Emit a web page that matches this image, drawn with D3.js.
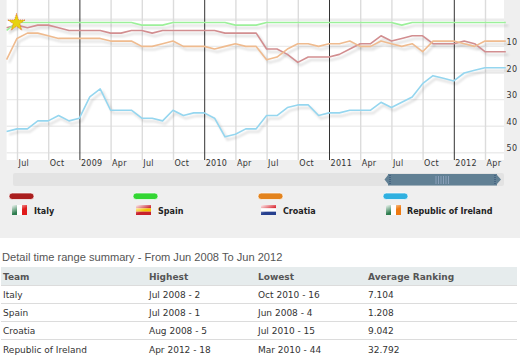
<!DOCTYPE html>
<html>
<head>
<meta charset="utf-8">
<script src="https://cdn.jsdelivr.net/npm/d3@7"></script>
<style>
  html, body { margin: 0; padding: 0; background: #fff; overflow: hidden; }
  svg { display: block; }
  text { font-family: "DejaVu Sans", sans-serif; }
  .axis text { font-size: 8px; fill: #333; letter-spacing: 0.3px; }
  .axis .domain { display: none; }
</style>
</head>
<body>
<svg id="chart" width="520" height="359"></svg>
<script>
// monthly FIFA ranks, Jun 2008 to Jun 2012
const startYear = 2008, startMonth = 5;
const italy = [3,2,3,2,2,3,4,4,4,4,5,5,4,4,5,4,4,4,4,4,4,5,5,5,5,11,11,13,16,14,14,14,13,11,9,9,6,8,7,6,6,9,9,9,8,9,12,12,12];
const spain = [4,1,1,1,1,1,1,1,1,1,1,1,1,2,2,2,1,1,1,1,1,1,2,2,2,1,1,1,1,1,1,1,1,1,1,1,1,1,2,1,1,1,1,1,1,1,1,1,1];
const croatia = [15,7,5,5,6,7,7,7,7,7,8,8,8,10,10,9,8,10,10,10,11,10,9,10,10,15,14,11,9,9,10,9,9,8,10,10,8,9,10,9,12,8,8,8,9,10,8,8,8];
const ireland = [42,41,41,38,38,36,38,37,29,26,34,34,34,37,37,38,34,36,35,35,37,44,43,41,41,36,36,33,32,32,36,35,35,34,34,34,31,33,31,29,24,21,22,23,20,19,18,18,18];

const teams = ["Italy", "Spain", "Croatia", "Republic of Ireland"];
const series = [italy, spain, croatia, ireland];
const lineColors = ["#d28e90", "#9cf09a", "#efbb8f", "#95d6ef"];
const legendColors = ["#aa1e1e", "#33d633", "#e3831d", "#2fb0e0"];
const highest = ["Jul 2008 - 2", "Jul 2008 - 1", "Aug 2008 - 5", "Apr 2012 - 18"];
const lowest = ["Oct 2010 - 16", "Jun 2008 - 4", "Jul 2010 - 15", "Mar 2010 - 44"];
const average = ["7.104", "1.208", "9.042", "32.792"];
const columns = ["Team", "Highest", "Lowest", "Average Ranking"];
const rankTicks = [0, 10, 20, 30, 40, 50];
const monthNames = { 0: null, 3: "Apr", 6: "Jul", 9: "Oct" };
const flags = [
  ["v", "#2e7d4f", "#ffffff", "#e01b1b"],
  ["h", "#c8202c", "#f5c400", "#c8202c"],
  ["h", "#d8222c", "#ffffff", "#27408f"],
  ["v", "#2e7d4f", "#ffffff", "#ee7a11"],
];
const legendX = [9, 133, 258, 383];
const legendText = [34, 158, 283, 407];

const svg = d3.select("#chart");
const defs = svg.append("defs");
defs.append("filter").attr("id", "soft").append("feGaussianBlur").attr("stdDeviation", 1);
const glare = defs.append("linearGradient").attr("id", "glare")
  .attr("x1", 0).attr("y1", 0).attr("x2", 0.7).attr("y2", 1);
glare.append("stop").attr("offset", "0%").attr("stop-color", "#fff").attr("stop-opacity", 0.95);
glare.append("stop").attr("offset", "65%").attr("stop-color", "#fff").attr("stop-opacity", 0);

const x = d3.scaleLinear().domain([0, 48]).range([6.6, 505.8]);
const y = d3.scaleLinear().domain([0, 50]).range([19.8, 152.8]);

// grey page behind the chart, white plot on top
svg.append("rect").attr("width", 520).attr("height", 238).attr("fill", "#efefef");
svg.append("rect").attr("x", 6.6).attr("width", 497.4).attr("height", 160).attr("fill", "#fff");

// month index for each tick, every 3 months from Jul 2008
const monthTicks = d3.range(1, 48, 3);
const monthOf = (i) => (startMonth + i) % 12;
const yearOf = (i) => startYear + Math.floor((startMonth + i) / 12);

svg.append("g").selectAll("line").data(rankTicks).enter().append("line")
  .attr("x1", 6.6).attr("x2", 504)
  .attr("y1", (d) => y(d)).attr("y2", (d) => y(d))
  .attr("stroke", "#ececec").attr("stroke-width", (d) => (d === 0 ? 2.4 : 1.4));

const xAxis = d3.axisBottom(x)
  .tickValues(monthTicks)
  .tickSize(160)
  .tickPadding(0)
  .tickFormat((i) => monthNames[monthOf(i)] || yearOf(i));
const gx = svg.append("g").attr("class", "axis").call(xAxis);
gx.selectAll(".tick line")
  .attr("stroke", (i) => (monthOf(i) === 0 ? "#333" : "#dcdcdc"))
  .attr("stroke-width", (i) => (monthOf(i) === 0 ? 1 : 1.4));
gx.selectAll(".tick text").attr("text-anchor", "start").attr("x", 1);

const yAxis = d3.axisRight(y)
  .tickValues(rankTicks.slice(1))
  .tickSize(0)
  .tickPadding(0);
svg.append("g").attr("class", "axis")
  .attr("transform", "translate(506.5,-4.5)")
  .call(yAxis);

// lines with their drop shadows
const line = d3.line().x((d, i) => x(i)).y((d) => y(d));
svg.append("g").selectAll("path").data(series).enter().append("path")
  .attr("d", line)
  .attr("transform", "translate(2.5,3)")
  .attr("fill", "none").attr("stroke", "#000").attr("stroke-opacity", 0.13)
  .attr("stroke-width", 2).attr("filter", "url(#soft)");
svg.append("g").selectAll("path").data(series).enter().append("path")
  .attr("d", line)
  .attr("fill", "none")
  .attr("stroke", (d, i) => lineColors[i])
  .attr("stroke-width", 1.6)
  .attr("stroke-linejoin", "round");

// star on Spain's first number one
svg.append("path")
  .attr("d", d3.symbol().type(d3.symbolStar).size(95))
  .attr("transform", `translate(${x(1) - 0.5},${y(spain[1]) + 0.3})`)
  .attr("fill", "#e6d30f")
  .attr("stroke", "#e2502a").attr("stroke-width", 0.7).attr("stroke-dasharray", "1 1");

// range scroller
svg.append("rect").attr("x", 13).attr("y", 173).attr("width", 491).attr("height", 13)
  .attr("rx", 2).attr("fill", "#e3e3e3");
svg.append("path").attr("d", "M384.5,179.5L388,175L388,184ZM501,179.5L497,175L497,184Z").attr("fill", "#618094");
svg.append("rect").attr("x", 388).attr("y", 174).attr("width", 109).attr("height", 11.5).attr("fill", "#618094");
svg.append("g").selectAll("line").data(d3.range(436, 449.5, 2.5)).enter().append("line")
  .attr("x1", (d) => d).attr("x2", (d) => d).attr("y1", 176).attr("y2", 184)
  .attr("stroke", "#8fa3bd").attr("stroke-width", 0.9);
svg.append("g").selectAll("line").data([390, 495]).enter().append("line")
  .attr("x1", (d) => d).attr("x2", (d) => d).attr("y1", 175).attr("y2", 185)
  .attr("stroke", "#2f4a70").attr("stroke-dasharray", "1 1");

// legend
const legend = svg.append("g").selectAll("g").data(teams).enter().append("g");
legend.append("rect")
  .attr("x", (d, i) => legendX[i]).attr("y", 193)
  .attr("width", 25).attr("height", 6.5).attr("rx", 3.2)
  .attr("fill", (d, i) => legendColors[i])
  .attr("stroke", "#fff").attr("stroke-width", 0.7);
legend.each(function (d, i) {
  const g = d3.select(this), f = flags[i], fx = legendX[i] + 3, fy = 205;
  f.slice(1).forEach((c, k) => {
    if (f[0] === "v") {
      g.append("rect").attr("x", fx + k * 5).attr("y", fy).attr("width", 5).attr("height", 10).attr("fill", c);
    } else {
      g.append("rect").attr("x", fx).attr("y", fy + (k * 10) / 3).attr("width", 15).attr("height", 10 / 3).attr("fill", c);
    }
  });
  g.append("rect").attr("x", fx).attr("y", fy).attr("width", 15).attr("height", 10).attr("fill", "url(#glare)");
});
legend.append("text")
  .attr("x", (d, i) => legendText[i]).attr("y", 214)
  .attr("font-size", 8).attr("font-weight", "bold").attr("fill", "#222")
  .text((d) => d);

// summary table
const colX = [3, 149, 258, 368];
const rowY = [267, 286, 304, 322, 340];
svg.append("text").attr("x", 2).attr("y", 261)
  .style("font-family", '"Liberation Sans", sans-serif')
  .attr("font-size", 11.1).attr("fill", "#555")
  .text("Detail time range summary - From Jun 2008 To Jun 2012");
svg.append("rect").attr("x", 1).attr("y", rowY[0]).attr("width", 516).attr("height", 18).attr("fill", "#e6eced");
svg.append("g").selectAll("line").data(rowY.slice(1)).enter().append("line")
  .attr("x1", 1).attr("x2", 517)
  .attr("y1", (d) => d - 0.5).attr("y2", (d) => d - 0.5)
  .attr("stroke", "#dcdcdc").attr("stroke-width", 1.2);
svg.append("g").selectAll("text").data(columns).enter().append("text")
  .attr("x", (d, i) => colX[i]).attr("y", 279.5)
  .attr("font-size", 9).attr("font-weight", "bold").attr("fill", "#555")
  .text((d) => d);
teams.forEach((team, r) => {
  svg.append("g").selectAll("text").data([team, highest[r], lowest[r], average[r]]).enter().append("text")
    .attr("x", (d, i) => colX[i]).attr("y", 298 + r * 18.2)
    .attr("font-size", 9).attr("fill", "#333")
    .text((d) => d);
});
</script>
</body>
</html>
